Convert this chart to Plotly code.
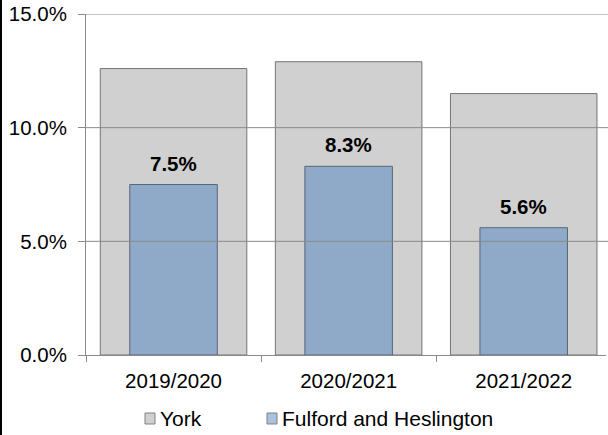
import plotly.graph_objects as go

categories = ["2019/2020", "2020/2021", "2021/2022"]
series_names = ["York", "Fulford and Heslington"]
york = [12.6, 12.9, 11.5]
fulford = [7.5, 8.3, 5.6]
y_ticks = [0, 5, 10, 15]
y_tick_labels = ["0.0%", "5.0%", "10.0%", "15.0%"]

W, H = 608, 435
L, R, T, B = 86, 2, 14, 80
PW, PH = W - L - R, H - T - B
FONT = "Liberation Sans, Arial, sans-serif"
GRID = "#8a8a8a"
COLORS = ["#d0d0d0", "#8faac8"]
EDGES = ["#747474", "#5a6678"]


def px_x(p):
    return (p - L) / PW


def px_y(p):
    return (H - B - p) / PH


fig = go.Figure()
fig.add_trace(go.Bar(
    x=categories, y=york, name=series_names[0], width=0.837,
    marker=dict(color=COLORS[0], line=dict(color=EDGES[0], width=1)),
    hoverinfo="skip",
))
fig.add_trace(go.Bar(
    x=categories, y=fulford, name=series_names[1], width=0.50,
    marker=dict(color=COLORS[1], line=dict(color=EDGES[1], width=1)),
    hoverinfo="skip",
))

# data labels above the Fulford bars
for c, v in zip(categories, fulford):
    fig.add_annotation(x=c, y=v, text=f"<b>{v:.1f}%</b>", showarrow=False,
                       yanchor="bottom", yshift=8,
                       font=dict(family=FONT, size=20.5, color="#000000"))

# gridlines drawn above the bars
for t in y_ticks[1:]:
    fig.add_shape(type="line", xref="paper", yref="y", x0=0, x1=1 + R / PW,
                  y0=t, y1=t, line=dict(color=GRID, width=1), layer="above")

# left border line of the chart frame
fig.add_shape(type="line", xref="paper", yref="paper",
              x0=px_x(1), x1=px_x(1), y0=px_y(H), y1=px_y(0),
              line=dict(color="#000000", width=2), layer="above")

# custom legend (swatch + label)
legend_swatch_x = [145, 267]
for name, col, sx in zip(series_names, ["#d0d0d0", "#a9c0de"], legend_swatch_x):
    fig.add_shape(type="rect", xref="paper", yref="paper",
                  x0=px_x(sx), x1=px_x(sx + 10), y0=px_y(424), y1=px_y(413),
                  fillcolor=col, line=dict(color="#808080", width=1), layer="above")
    fig.add_annotation(xref="paper", yref="paper", x=px_x(sx + 13), y=px_y(418.5),
                       xanchor="left", yanchor="middle", text=name, showarrow=False,
                       font=dict(family=FONT, size=21, color="#000000"))

fig.update_layout(
    width=W, height=H,
    margin=dict(l=L, r=R, t=T, b=B, autoexpand=False),
    barmode="overlay",
    plot_bgcolor="white", paper_bgcolor="white",
    font=dict(family=FONT, size=20.5, color="#000000"),
    showlegend=False,
)
fig.update_xaxes(
    type="category", range=[-0.5, 2.47], automargin=False,
    showline=True, linecolor=GRID, linewidth=1,
    ticks="outside", tickson="boundaries", ticklen=6, tickcolor=GRID,
    showgrid=False, tickfont=dict(family=FONT, size=20.5), ticklabelstandoff=7,
)
fig.update_yaxes(
    range=[0, 15], tickvals=y_ticks, ticktext=y_tick_labels, automargin=False,
    showline=True, linecolor=GRID, linewidth=1,
    ticks="outside", ticklen=7, tickcolor=GRID,
    showgrid=False, zeroline=False,
    tickfont=dict(family=FONT, size=20.5), ticklabelstandoff=7,
)

fig.write_html("out.html", config={"displayModeBar": False},
               post_script="document.body.style.margin='0';document.body.style.padding='0';")
